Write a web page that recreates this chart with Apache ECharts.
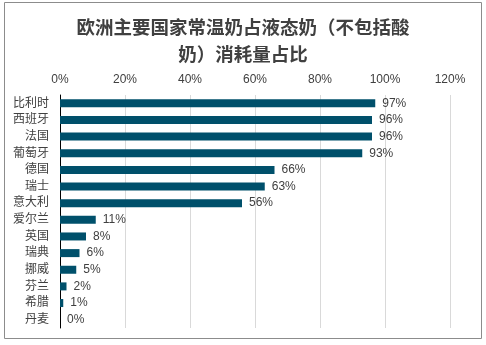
<!DOCTYPE html>
<html><head><meta charset="utf-8">
<script src="https://cdn.jsdelivr.net/npm/echarts@6/dist/echarts.min.js"></script>
<style>html,body{margin:0;padding:0;background:#fff}#c{width:486px;height:345px}</style>
</head><body><div id="c"></div>
<script>
const titleText = '欧洲主要国家常温奶占液态奶（不包括酸\n奶）消耗量占比';
const categories = ['比利时','西班牙','法国','葡萄牙','德国','瑞士','意大利','爱尔兰','英国','瑞典','挪威','芬兰','希腊','丹麦'];
const values = [97,96,96,93,66,63,56,11,8,6,5,2,1,0];
const font = '"Liberation Sans","Noto Sans CJK SC",sans-serif';
const chart = echarts.init(document.getElementById('c'));
chart.setOption({
  animation:false,
  graphic:[{type:'rect',shape:{x:4.5,y:2.5,width:477,height:336},style:{fill:'none',stroke:'#8c8c8c',lineWidth:1},silent:true}],
  title:{text:titleText,left:'center',top:10,textStyle:{fontFamily:font,fontSize:18.5,fontWeight:'bold',color:'#404040',lineHeight:27}},
  grid:{left:60,right:36,top:95,bottom:17},
  xAxis:{type:'value',position:'top',min:0,max:120,interval:20,
    axisLabel:{formatter:'{value}%',color:'#404040',fontSize:12,fontFamily:font,margin:9},
    axisLine:{show:false},axisTick:{show:false},
    splitLine:{lineStyle:{color:'#d9d9d9',width:1}}},
  yAxis:{type:'category',data:categories,inverse:true,
    axisLabel:{color:'#404040',fontSize:12,fontFamily:font,margin:11},
    axisLine:{lineStyle:{color:'#000',width:1}},axisTick:{show:false}},
  series:[{type:'bar',data:values,barWidth:8,itemStyle:{color:'#00506b'},
    label:{show:true,position:'right',distance:7,formatter:'{c}%',color:'#404040',fontSize:12,fontFamily:font}}]
});
</script></body></html>
